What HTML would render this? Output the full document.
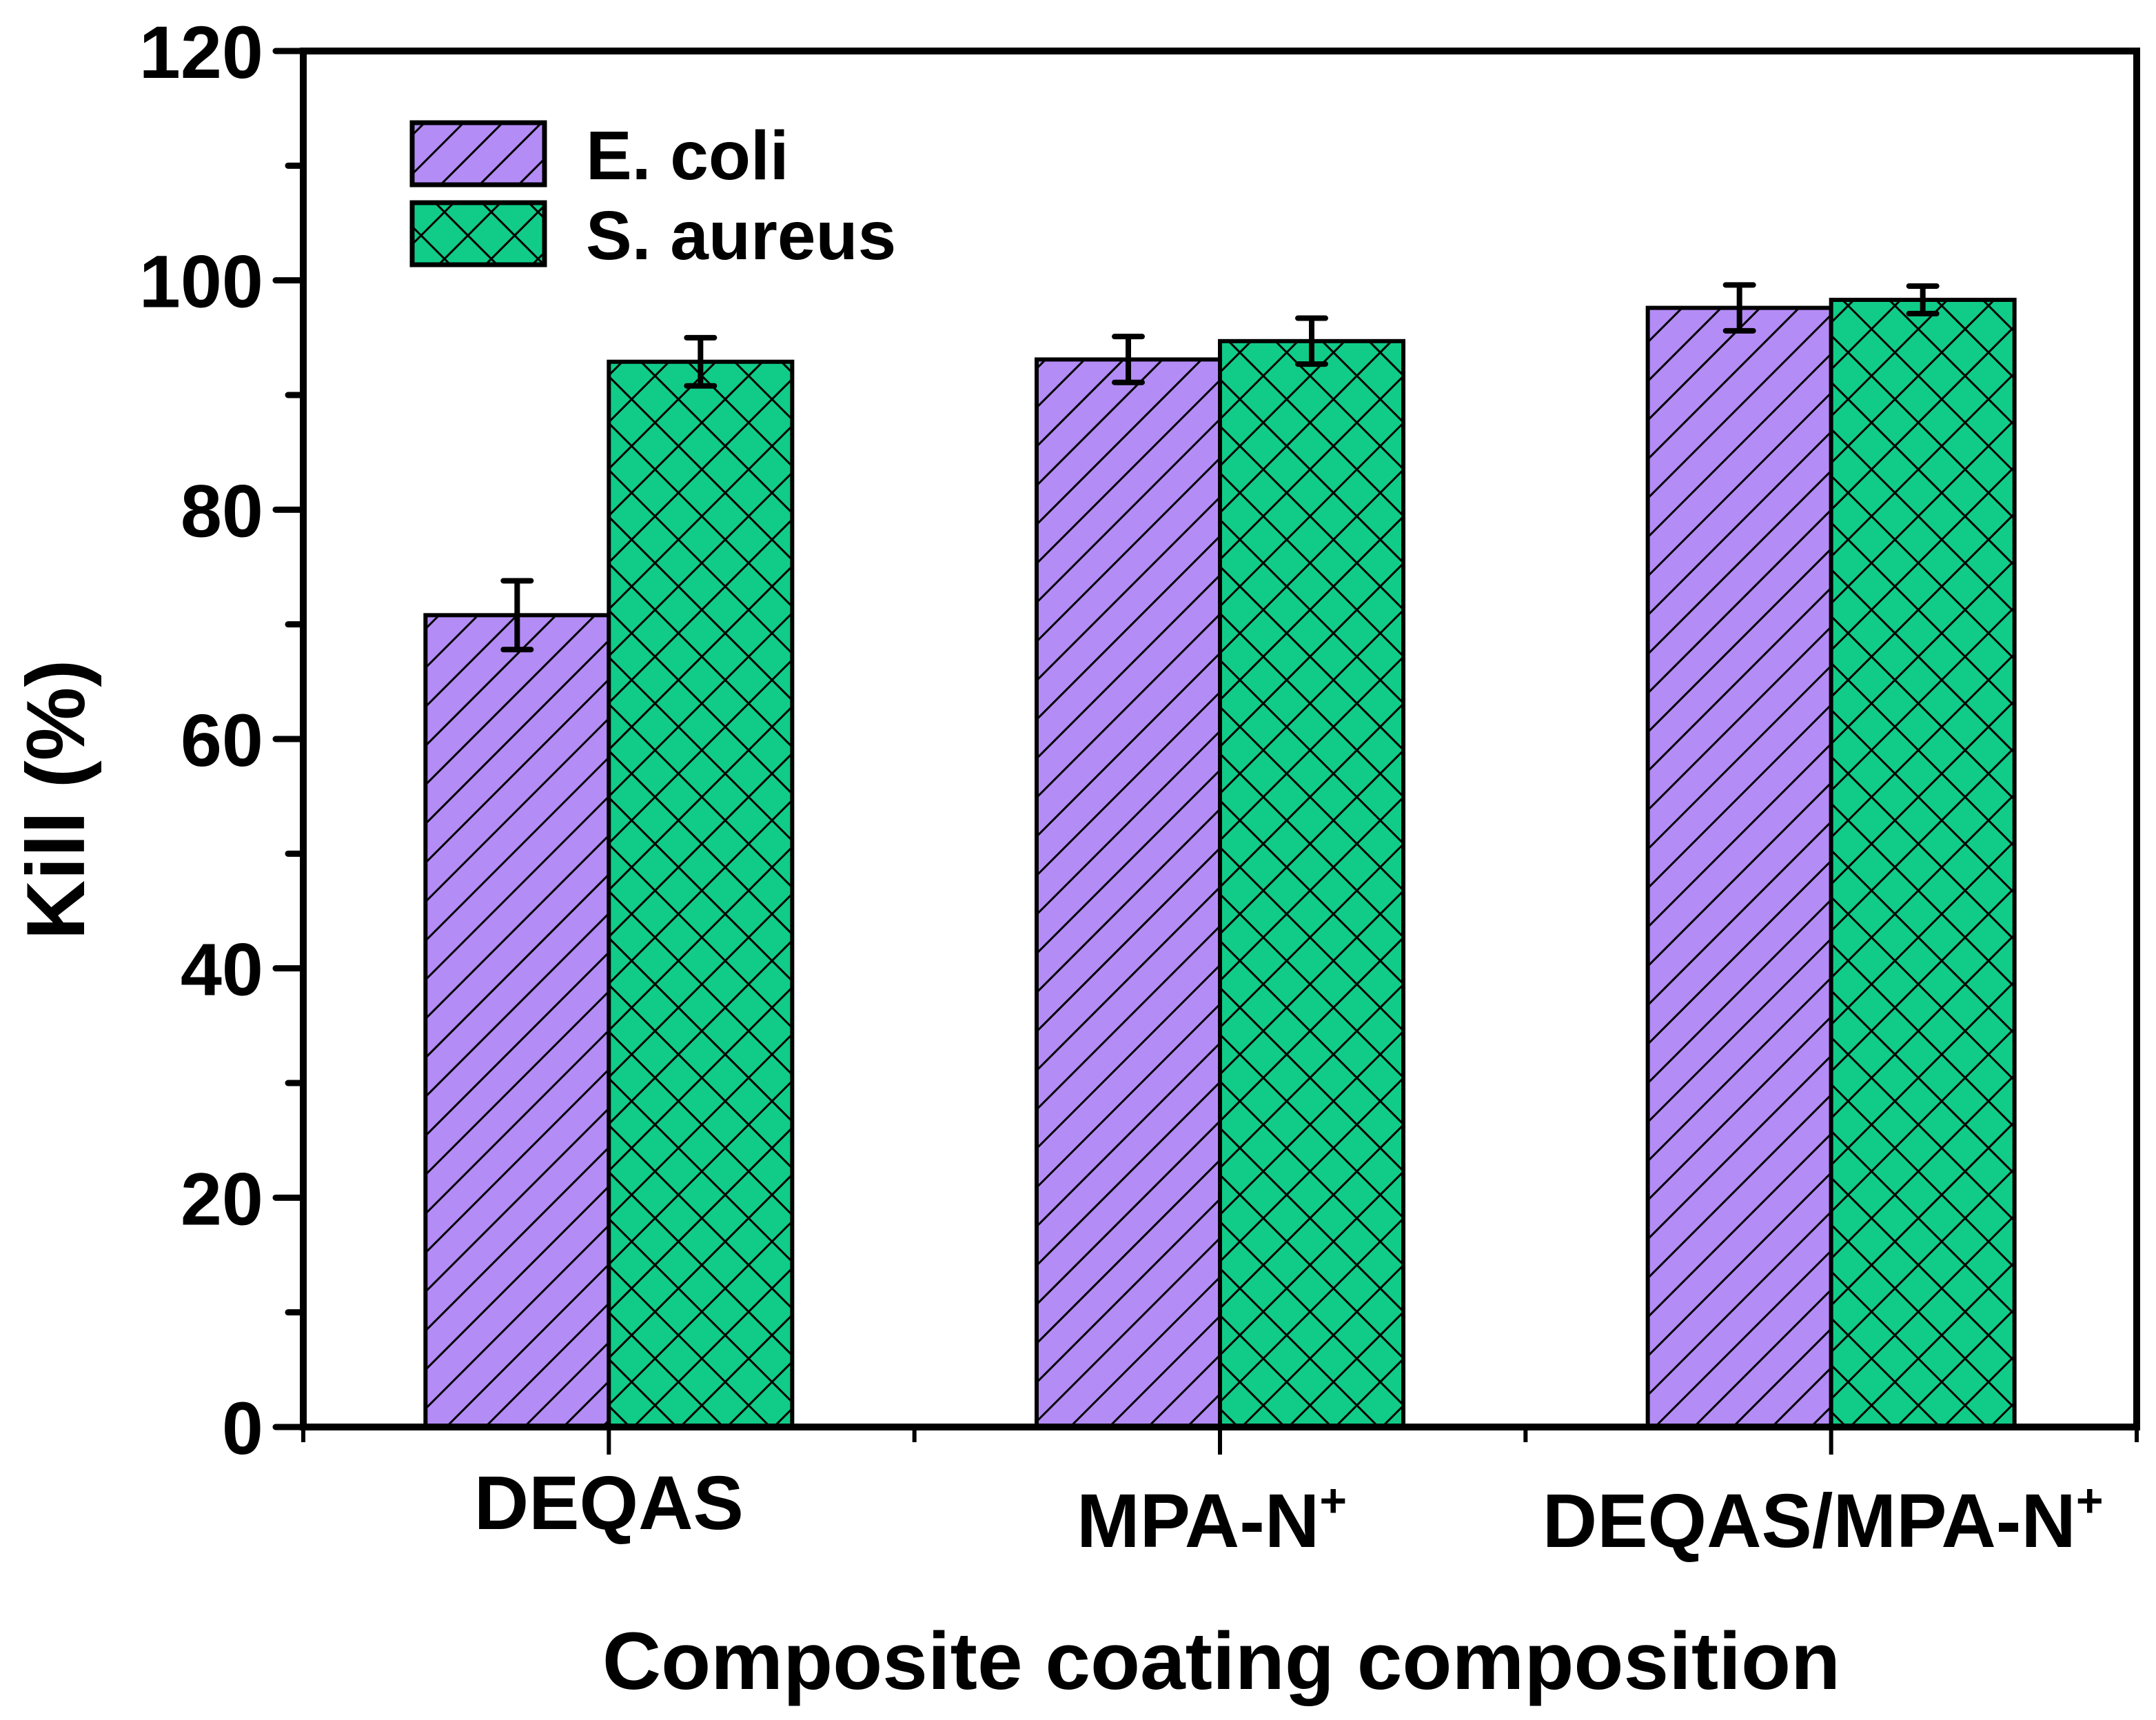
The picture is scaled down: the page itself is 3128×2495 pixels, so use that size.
<!DOCTYPE html>
<html><head><meta charset="utf-8"><style>
html,body{margin:0;padding:0;background:#fff;}
svg{display:block;font-family:"Liberation Sans",Arial,sans-serif;font-weight:bold;}
</style></head><body>
<svg id="chart" width="3128" height="2495" viewBox="0 0 3128 2495" xmlns="http://www.w3.org/2000/svg">
<defs>
<pattern id="hatch" patternUnits="userSpaceOnUse" width="40" height="40" patternTransform="rotate(45)">
<rect width="40" height="40" fill="#b48cf6"/><line x1="0" y1="0" x2="0" y2="40" stroke="#000" stroke-width="6"/></pattern>
<pattern id="cross" patternUnits="userSpaceOnUse" width="48" height="48" patternTransform="rotate(45)">
<rect width="48" height="48" fill="#10cc88"/><line x1="0" y1="0" x2="0" y2="48" stroke="#000" stroke-width="6"/><line x1="0" y1="0" x2="48" y2="0" stroke="#000" stroke-width="6"/></pattern>
</defs>
<g id="plot"></g>
</svg>
<script>
const categories=["DEQAS","MPA-N","DEQAS/MPA-N"];
const sup=["","+","+"];
const ecoli=[70.8,93.1,97.6];
const ecoliErr=[3.0,2.0,2.0];
const saureus=[92.9,94.7,98.3];
const saureusErr=[2.1,2.0,1.2];
const yTicks=[0,20,40,60,80,100,120];
const seriesNames=["E. coli","S. aureus"];

const NS="http://www.w3.org/2000/svg";
const g=document.getElementById('plot');
const L=440,R=3100,T=74,B=2070;
const x=v=>L+(v-0.5)/3*(R-L);
const y=v=>B-v/120*(B-T);
function mk(tag,attrs,parent){const e=document.createElementNS(NS,tag);for(const k in attrs)e.setAttribute(k,attrs[k]);(parent||g).appendChild(e);return e;}
const bw=0.3;
function bars(vals,off,fill,nm){
 vals.forEach((v,i)=>{
  const xl=off<0?x(i+1-bw):x(i+1);
  const r=mk('rect',{x:xl,y:y(v),width:x(i+1+bw)-x(i+1),height:y(0)-y(v),fill:fill,stroke:'#000','stroke-width':6});
  
  
 });
}
function errbars(vals,errs,off,nm){
 vals.forEach((v,i)=>{
  const cx=x(i+1+off);
  const e=mk('path',{d:`M${cx},${y(v+errs[i])}V${y(v-errs[i])}M${cx-20},${y(v+errs[i])}H${cx+20}M${cx-20},${y(v-errs[i])}H${cx+20}`,stroke:'#000','stroke-width':8,'stroke-linecap':'round',fill:'none'});
  
  
 });
}
bars(ecoli,-1,'url(#hatch)','ecoli');
bars(saureus,1,'url(#cross)','saureus');
errbars(ecoli,ecoliErr,-bw/2,'ecoli');
errbars(saureus,saureusErr,bw/2,'saureus');

const fr=mk('rect',{x:L,y:T,width:R-L,height:B-T,fill:'none',stroke:'#000','stroke-width':10});


for(let v=0;v<=120;v+=10){
 const major=v%20===0;
 mk('line',{x1:L-(major?40:22),x2:L,y1:y(v),y2:y(v),stroke:'#000','stroke-width':9,'stroke-linecap':'round'});
}
yTicks.forEach(v=>{
 const t=mk('text',{x:L-58,y:y(v)+39,'text-anchor':'end','font-size':108});
 t.textContent=v;
 
 
});
for(let k=0;k<=6;k++){
 const v=0.5+k*0.5;const major=k%2===1;
 mk('line',{x1:x(v),x2:x(v),y1:B,y2:B+(major?40:22),stroke:'#000','stroke-width':6});
}
const labY=[2218,2244,2244];
categories.forEach((c,i)=>{
 const t=mk('text',{x:x(i+1)-(sup[i]?12:0),y:labY[i],'text-anchor':'middle','font-size':110});
 t.textContent=c;
 if(sup[i]){const s=mk('tspan',{'font-size':68,dy:-44},t);s.textContent=sup[i];}
 
 
});
const yt=mk('text',{x:0,y:0,'text-anchor':'middle','font-size':120,transform:`translate(122,1160) rotate(-90)`});
yt.textContent='Kill (%)';


const xt=mk('text',{x:1772,y:2450,'text-anchor':'middle','font-size':118});
xt.textContent='Composite coating composition';


const lf=['url(#hatch)','url(#cross)'];
seriesNames.forEach((n,i)=>{
 const yy=178+i*116;
 const r=mk('rect',{x:598,y:yy,width:192,height:90,fill:lf[i],stroke:'#000','stroke-width':7});
 
 
 const t=mk('text',{x:850,y:yy+82,'font-size':100});
 t.textContent=n;
 
 
});
</script>
</body></html>
